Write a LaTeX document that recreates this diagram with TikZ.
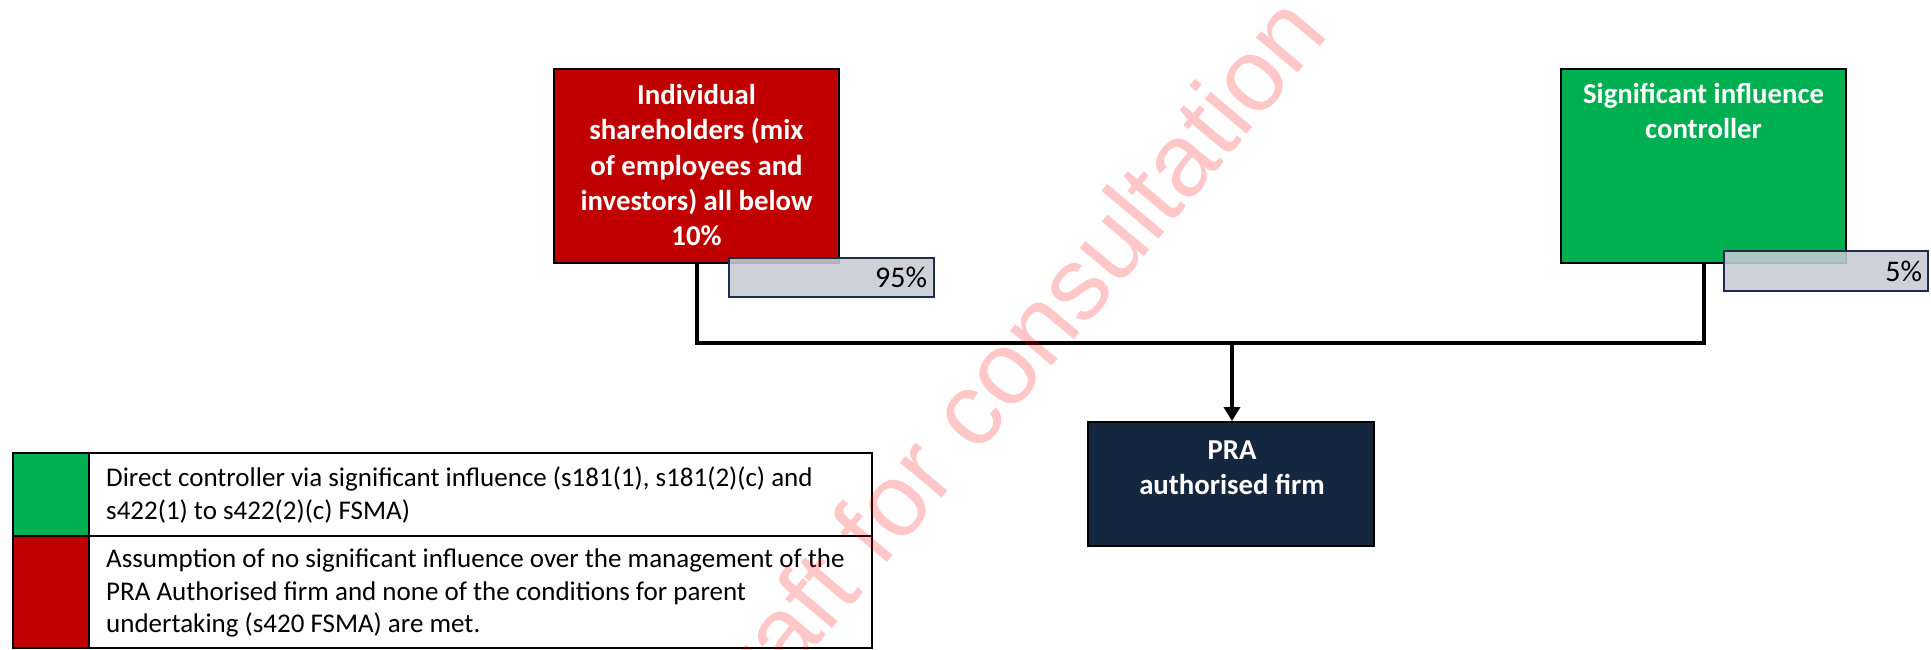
\documentclass[tikz,border=0pt]{standalone}
\usepackage{fontspec}
\setmainfont{Carlito}
\newfontfamily\wmfont{Liberation Sans}
\usetikzlibrary{arrows.meta}
\definecolor{boxred}{HTML}{C00000}
\definecolor{boxgreen}{HTML}{00B050}
\definecolor{boxnavy}{HTML}{14273F}
\definecolor{pctgray}{HTML}{C8CBD3}
\definecolor{pctedge}{HTML}{1F2D4A}
\begin{document}
\begin{tikzpicture}[x=1pt,y=-1pt,
  box/.style={draw=black, line width=2pt, inner sep=0pt, minimum width=285pt, minimum height=194pt},
  boxtext/.style={text=white, font=\bfseries\fontsize{28.8}{35.3}\selectfont, align=center, inner sep=0pt, anchor=north},
  pct/.style={draw=pctedge, line width=2pt, fill=pctgray, fill opacity=0.88, text opacity=1, inner sep=0pt,
    font=\fontsize{30}{36}\selectfont, align=right},
  conn/.style={line width=4pt},
  arr/.style={line width=4pt, -{Triangle[length=14pt,width=16pt]}},
  legcell/.style={draw=black, line width=1.6pt, inner sep=0pt},
  legtext/.style={font=\fontsize{27}{32.5}\selectfont, align=left, anchor=north west, inner sep=0pt},
  wmark/.style={font=\wmfont\fontsize{103}{103}\selectfont, text=red, text opacity=0.22, rotate=50, anchor=base east, inner sep=0pt}
]
\useasboundingbox[fill=white] (0,0) rectangle (1931,649);

% boxes
\node[box, fill=boxred] (red) at (696.5,166) {};
\node[boxtext] (redtxt) at (696.5,84) {Individual\\shareholders (mix\\of employees and\\investors) all below\\10\%};
\node[box, fill=boxgreen] (green) at (1703.5,166) {};
\node[boxtext] (greentxt) at (1703.5,83) {Significant influence\\controller};
\node[box, fill=boxnavy, minimum width=286pt, minimum height=124pt] (pra) at (1231,484) {};
\node[boxtext] (pratxt) at (1232,440.6) {PRA\\authorised firm};

% percentage boxes
\node[pct, minimum width=205pt, minimum height=39pt, text width=191pt] (p95) at (831.5,277.5) {95\%};
\node[pct, minimum width=204pt, minimum height=40pt, text width=192pt] (p5) at (1826,271) {5\%};

% connectors
\coordinate (bus) at (0,343);
\draw[conn] (red.south) -- (red.south |- bus) -- (green.south |- bus) -- (green.south);
\draw[arr] (1232,343) coordinate (jn) -- (jn |- pra.north);

% legend
\node[legcell, fill=boxgreen, minimum width=76pt, minimum height=83pt] (lg1) at (51,494.5) {};
\node[legcell, fill=boxred, minimum width=76pt, minimum height=112pt] (lg2) at (51,592) {};
\node[legcell, minimum width=783pt, minimum height=83pt] (lt1) at (480.5,494.5) {};
\node[legcell, minimum width=783pt, minimum height=112pt] (lt2) at (480.5,592) {};
\node[legtext] (lt1txt) at (106,467) {Direct controller via significant influence (s181(1), s181(2)(c) and\\s422(1) to s422(2)(c) FSMA)};
\node[legtext] (lt2txt) at (106,549) {Assumption of no significant influence over the management of the\\PRA Authorised firm and none of the conditions for parent\\undertaking (s420 FSMA) are met.};

% watermark
\node[wmark] (wm) at (1331,34) {Draft for consultation};
\end{tikzpicture}
\end{document}
